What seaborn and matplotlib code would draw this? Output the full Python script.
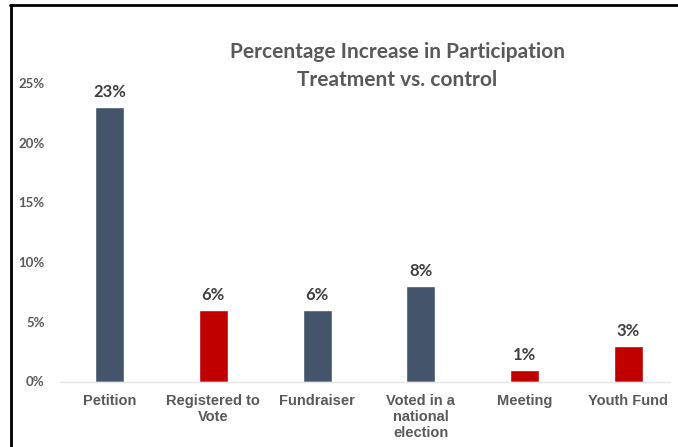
import matplotlib
matplotlib.use("Agg")
import matplotlib.pyplot as plt
import seaborn as sns
import pandas as pd
from matplotlib.lines import Line2D

categories = ["Petition", "Registered to\nVote", "Fundraiser", "Voted in a\nnational\nelection", "Meeting", "Youth Fund"]
values = [0.23, 0.06, 0.06, 0.08, 0.01, 0.03]
groups = ["a", "b", "a", "a", "b", "b"]
yticks = [0, 0.05, 0.10, 0.15, 0.20, 0.25]
ytick_labels = ["0%", "5%", "10%", "15%", "20%", "25%"]
value_labels = ["23%", "6%", "6%", "8%", "1%", "3%"]
title_lines = ["Percentage Increase in Participation", "Treatment vs. control"]

sns.set_style("white")
plt.rcParams['font.family'] = ['Lato', 'DejaVu Sans']

df = pd.DataFrame({"cat": categories, "val": values, "grp": groups})
palette = {"a": "#44546A", "b": "#C00000"}

fig = plt.figure(figsize=(6.78, 4.47), dpi=100)
ax = fig.add_axes([60/678, 1 - 381.5/447, 610/678, (381.5-83)/447])
sns.barplot(data=df, x="cat", y="val", hue="grp", palette=palette, dodge=False,
            width=0.28, legend=False, ax=ax, saturation=1)
ax.set_xlim(-0.477, 5.4)
ax.set_ylim(0, 0.25)
ax.set_yticks(yticks)
ax.set_yticklabels(ytick_labels, fontsize=9.5, fontweight="bold", color="#595959")
ax.set_xticks(range(len(categories)))
ax.set_xticklabels(categories, fontsize=10.5, fontweight="bold", color="#595959",
                   family=["Liberation Sans"], linespacing=1.2)
ax.tick_params(axis="both", length=0)
ax.tick_params(axis="y", pad=11)
ax.tick_params(axis="x", pad=9)
ax.set_xlabel("")
ax.set_ylabel("")
for s in ["top", "right", "left"]:
    ax.spines[s].set_visible(False)
ax.spines["bottom"].set_color("#E6E6E6")
ax.spines["bottom"].set_linewidth(1)

for i, (v, lab) in enumerate(zip(values, value_labels)):
    ax.annotate(lab, (i, v), xytext=(0, 5), textcoords="offset points",
                ha="center", va="bottom", fontsize=12, fontweight="bold", color="#404040")

fig.text(397/678, 1 - 52/447, title_lines[0],
         ha="center", va="center", fontsize=15, fontweight="bold", color="#595959")
fig.text(397/678, 1 - 80/447, title_lines[1],
         ha="center", va="center", fontsize=15, fontweight="bold", color="#595959")

fig.add_artist(Line2D([10/678, 1], [1 - 5/447, 1 - 5/447], color="black", lw=2, transform=fig.transFigure))
fig.add_artist(Line2D([11/678, 11/678], [1 - 5/447, 0], color="black", lw=2, transform=fig.transFigure))

fig.savefig("out.png", dpi=100)
